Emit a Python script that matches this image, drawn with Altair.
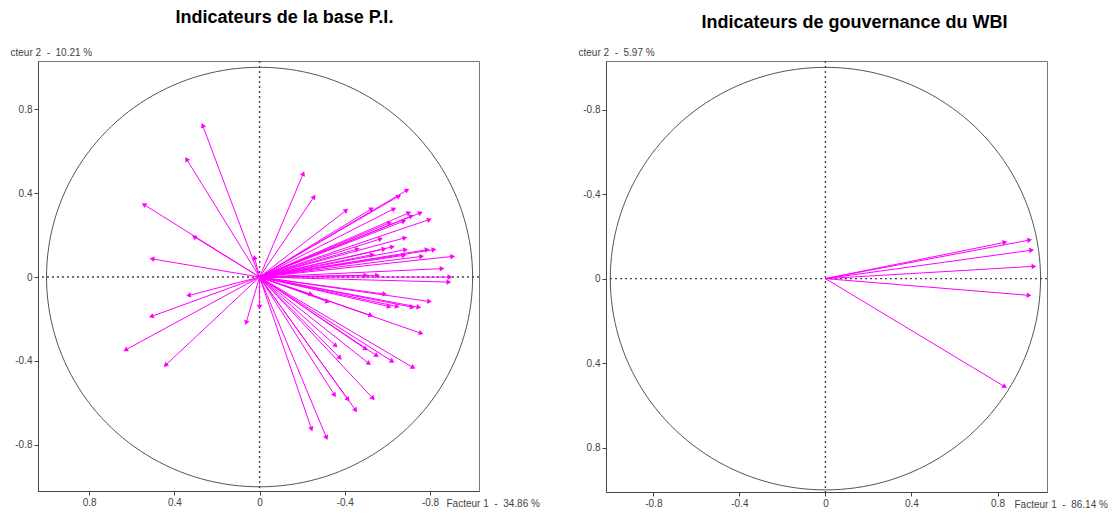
import altair as alt
import pandas as pd
import numpy as np

# ---- data (coordinates of arrow tips) ----
left_x = [0.266, 0.341, 0.54, 0.304, 0.501, 0.023, 0.33, 0.505, 0.626, 0.439, 0.062, 0.0,
          -0.584, -0.794, -0.605, -0.643, -0.713, -0.744, -0.238, -0.316, -0.519, -0.755,
          -0.355, -0.375, -0.495, -0.547, -0.511, -0.62, -0.718, -0.35, -0.413, -0.449,
          -0.53, -0.243, -0.313,
          -0.204, -0.254, -0.69, -0.651, -0.404, -0.523, -0.628, -0.698, -0.752, -0.794,
          -0.709, -0.674, -0.607, -0.565, -0.679, -0.581, -0.62, -0.456, -0.682, -0.783,
          -0.815, -0.526, -0.674, -0.757, -0.903, -0.853, -0.495, -0.55, -0.89, -0.885]
left_y = [0.72, 0.559, 0.344, 0.19, 0.086, 0.09, -0.087, -0.187, -0.346, -0.418, -0.214, -0.14,
          -0.081, -0.116, -0.14, -0.14, -0.143, -0.143, -0.081, -0.116, -0.182, -0.267,
          -0.325, -0.383, -0.341, -0.373, -0.41, -0.40, -0.43, -0.56, -0.581, -0.632,
          -0.576, -0.722, -0.763,
          0.49, 0.38, 0.413, 0.384, 0.316, 0.324, 0.324, 0.305, 0.305, 0.273,
          0.289, 0.265, 0.257, 0.181, 0.186, 0.133, 0.143, 0.133, 0.13, 0.13,
          0.13, 0.106, 0.103, 0.098, 0.098, 0.04, 0.008, 0.008, 0.0, -0.024]

right_x = [0.831, 0.946, 0.955, 0.966, 0.943, 0.831]
right_y = [-0.171, -0.182, -0.134, -0.058, 0.079, 0.51]

tick_values = [-0.8, -0.4, 0, 0.4, 0.8]

NB = "\u00a0"
titles = ["Indicateurs de la base P.I.", "Indicateurs de gouvernance du WBI"]
x_titles = [f"Facteur 1{NB}{NB}-{NB}{NB}34.86 %", f"Facteur 1{NB}{NB}-{NB}{NB}86.14 %"]
y_titles = [f"cteur 2{NB}{NB}-{NB}{NB}10.21 %", f"cteur 2{NB}{NB}-{NB}{NB}5.97 %"]

MAGENTA = "#FF00FF"
FONT = "Liberation Sans"


def make_panel(xs, ys, x_rev, y_rev, xdom, ydom, x_title, y_title, title,
               title_offset, title_dx, title_dy, height):
    df = pd.DataFrame({"x": xs, "y": ys})
    df["x0"] = 0.0
    df["y0"] = 0.0
    sx = -1.0 if x_rev else 1.0
    sy = -1.0 if y_rev else 1.0
    df["ang"] = (np.degrees(np.arctan2(sx * df["x"], sy * df["y"])) + 360) % 360

    xscale = alt.Scale(domain=xdom, reverse=x_rev, nice=False, zero=False)
    yscale = alt.Scale(domain=ydom, reverse=y_rev, nice=False, zero=False)

    x_axis = alt.Axis(values=tick_values, labelExpr="'' + datum.value", grid=False,
                      tickSize=4, title=x_title, titleX=408, titleY=12,
                      titleAlign="left", titleBaseline="middle", titleAngle=0)
    y_axis = alt.Axis(values=tick_values, labelExpr="'' + datum.value", grid=False,
                      tickSize=4, title=y_title, titleX=-28, titleY=-9,
                      titleAlign="left", titleBaseline="middle", titleAngle=0)

    circle = (
        alt.Chart(alt.sequence(0, 361, 2, as_="t"))
        .transform_calculate(cx="cos(datum.t*PI/180)", cy="sin(datum.t*PI/180)")
        .mark_line(color="#555555", strokeWidth=1)
        .encode(x=alt.X("cx:Q", scale=xscale, axis=x_axis),
                y=alt.Y("cy:Q", scale=yscale, axis=y_axis),
                order="t:Q")
    )
    zero_df = pd.DataFrame({"v": [0.0]})
    vline = alt.Chart(zero_df).mark_rule(color="#444444", strokeDash=[2, 3],
                                         strokeWidth=1.4).encode(x=alt.X("v:Q", scale=xscale))
    hline = alt.Chart(zero_df).mark_rule(color="#444444", strokeDash=[2, 3],
                                         strokeWidth=1.4).encode(y=alt.Y("v:Q", scale=yscale))
    shafts = alt.Chart(df).mark_rule(color=MAGENTA, strokeWidth=1).encode(
        x=alt.X("x0:Q", scale=xscale), y=alt.Y("y0:Q", scale=yscale),
        x2="x:Q", y2="y:Q")
    heads = alt.Chart(df).mark_point(shape="triangle", filled=True, size=30,
                                     color=MAGENTA, opacity=1).encode(
        x=alt.X("x:Q", scale=xscale), y=alt.Y("y:Q", scale=yscale),
        angle=alt.Angle("ang:Q", scale=None))

    return alt.layer(circle, vline, hline, shafts, heads).properties(
        width=441, height=height,
        title=alt.TitleParams(title, font=FONT, fontSize=18, fontWeight="bold",
                              color="black", anchor="middle", frame="group",
                              dx=title_dx, dy=title_dy, offset=title_offset,
                              baseline="alphabetic"))


left = make_panel(left_x, left_y, True, False, [-1.03, 1.04], [-1.02, 1.03],
                  x_titles[0], y_titles[0], titles[0], 6, 26, 0, 430)
right = make_panel(right_x, right_y, False, True, [-1.02, 1.03], [-1.03, 1.01],
                   x_titles[1], y_titles[1], titles[1], 6, 28, 5, 431)

chart = (
    alt.hconcat(left, right, spacing=127, bounds="flush")
    .configure_view(stroke="#777777", strokeWidth=1)
    .configure_axis(domainColor="#444444", tickColor="#444444", labelColor="#444444",
                    labelFont=FONT, labelFontSize=10, titleFont=FONT, titleFontSize=10,
                    titleFontWeight="normal", titleColor="#444444", labelPadding=2)
    .properties(padding={"left": 1, "top": 0, "right": 0, "bottom": 0})
)

chart.save("out.html", embed_options={"renderer": "svg", "actions": False})
